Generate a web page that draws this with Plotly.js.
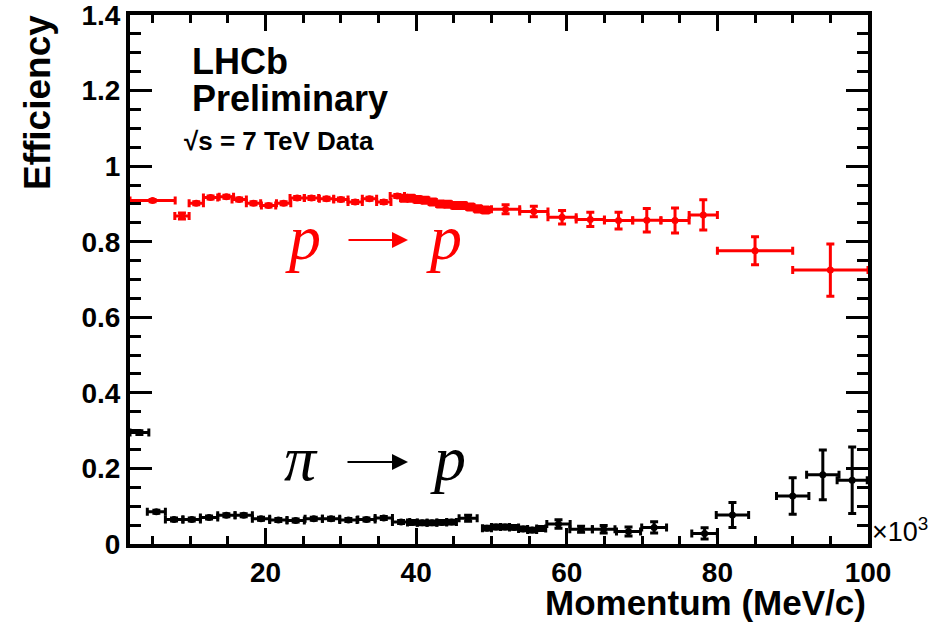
<!DOCTYPE html>
<html>
<head>
<meta charset="utf-8">
<script src="https://cdn.plot.ly/plotly-3.0.1.min.js"></script>
<style>html,body{margin:0;padding:0;background:#fff;}#chart{width:948px;height:623px;}</style>
</head>
<body>
<div id="chart"></div>
<script>
// Momentum bin centres (x10^3 MeV/c), efficiencies and uncertainties
var redX = [5, 8.9, 10.8, 12.7, 14.8, 16.5, 18.4, 20.4, 22.4, 24.2, 26.1, 28.1, 30.0, 31.9, 33.8, 35.7, 37.5,
            38.4, 39.3, 40.2, 41.2, 42.2, 43.2, 44.2, 45.2, 46.2, 47.2, 48.2, 49.2,
            51.875, 55.625, 59.375, 63.125, 66.875, 70.625, 74.375, 78.125, 85, 95];
var redY = [0.909, 0.868, 0.902, 0.917, 0.919, 0.912, 0.902, 0.896, 0.902, 0.916, 0.916, 0.914, 0.912, 0.905, 0.914, 0.905, 0.921,
            0.915, 0.915, 0.912, 0.910, 0.905, 0.900, 0.899, 0.896, 0.896, 0.892, 0.887, 0.884,
            0.886, 0.880, 0.865, 0.859, 0.856, 0.857, 0.856, 0.871, 0.776, 0.725];
var redYErr = [0.003, 0.008, 0.004, 0.004, 0.004, 0.004, 0.004, 0.004, 0.004, 0.004, 0.004, 0.004, 0.004, 0.004, 0.004, 0.004, 0.004,
            0.008, 0.008, 0.008, 0.008, 0.008, 0.008, 0.008, 0.008, 0.008, 0.008, 0.008, 0.008,
            0.012, 0.014, 0.018, 0.019, 0.022, 0.031, 0.033, 0.040, 0.037, 0.069];
var redXErr = [3, 0.95, 0.95, 0.95, 0.95, 0.95, 0.95, 0.95, 0.95, 0.95, 0.95, 0.95, 0.95, 0.95, 0.95, 0.95, 0.95,
            0.48, 0.48, 0.48, 0.48, 0.48, 0.48, 0.48, 0.48, 0.48, 0.48, 0.48, 0.48,
            1.875, 1.875, 1.875, 1.875, 1.875, 1.875, 1.875, 1.875, 5, 5];

var blackX = [3.25, 5.5, 7.85, 10.2, 12.5, 14.8, 17.1, 19.4, 21.7, 24.0, 26.4, 28.7, 31.0, 33.4, 35.7, 38.0,
              39.5, 40.8, 42.1, 43.4, 44.7, 46.9,
              49.4, 50.6, 51.8, 53.0, 54.2, 55.4, 56.6,
              58.9, 61.9, 64.9, 68.2, 71.6,
              78.3, 82.0, 90.0, 94.0, 97.9];
var blackY = [0.295, 0.0855, 0.065, 0.065, 0.070, 0.076, 0.076, 0.067, 0.0635, 0.062, 0.067, 0.067, 0.0635, 0.065, 0.069, 0.058,
              0.057, 0.056, 0.056, 0.057, 0.058, 0.068,
              0.042, 0.045, 0.045, 0.044, 0.040, 0.037, 0.041,
              0.053, 0.039, 0.039, 0.033, 0.044,
              0.028, 0.077, 0.127, 0.183, 0.169];
var blackYErr = [0.005, 0.004, 0.004, 0.004, 0.004, 0.004, 0.004, 0.004, 0.004, 0.004, 0.004, 0.004, 0.004, 0.004, 0.004, 0.004,
              0.005, 0.005, 0.005, 0.005, 0.005, 0.008,
              0.005, 0.005, 0.005, 0.005, 0.005, 0.005, 0.005,
              0.011, 0.008, 0.010, 0.012, 0.015,
              0.015, 0.033, 0.0485, 0.066, 0.088];
var blackXErr = [1.25, 1.2, 1.15, 1.15, 1.15, 1.15, 1.15, 1.15, 1.15, 1.15, 1.15, 1.15, 1.15, 1.15, 1.15, 1.15,
              0.65, 0.65, 0.65, 0.65, 0.65, 1.2,
              0.6, 0.6, 0.6, 0.6, 0.6, 0.6, 0.6,
              1.55, 1.5, 1.5, 1.6, 1.65,
              1.7, 2.15, 2.15, 2.15, 2.0];

var xTickVals = [20, 40, 60, 80, 100];

function series(x, y, ex, ey, color) {
  return {
    type: 'scatter', mode: 'markers', x: x, y: y,
    marker: {color: color, size: 7, symbol: 'circle'},
    error_x: {type: 'data', array: ex, visible: true, color: color, thickness: 3, width: 4},
    error_y: {type: 'data', array: ey, visible: true, color: color, thickness: 3, width: 4},
    showlegend: false, hoverinfo: 'x+y'
  };
}

var data = [
  series(redX, redY, redXErr, redYErr, '#ff0000'),
  series(blackX, blackY, blackXErr, blackYErr, '#000000')
];

var tickFont = {family: 'Liberation Sans, Arial, sans-serif', size: 28, color: '#000', weight: 700};
var sans = 'Liberation Sans, Arial, sans-serif';
var serif = 'Liberation Serif, DejaVu Serif, serif';

function px(x) { return (x - 130) / 738; }
function py(y) { return (544 - y) / 529; }

function label(x, y, text, size, color, anchor) {
  return {xref: 'paper', yref: 'paper', x: px(x), y: py(y), xanchor: anchor || 'left', yanchor: 'middle',
          showarrow: false, text: text, font: {family: serif, size: size, color: color}};
}
function arrow(x0, x1, y, color) {
  return {xref: 'paper', yref: 'paper', x: px(x1), y: py(y), axref: 'pixel', ayref: 'pixel',
          ax: x0 - x1, ay: 0, text: '', showarrow: true, arrowhead: 2, arrowsize: 1.6,
          arrowwidth: 2, arrowcolor: color, standoff: 0, startstandoff: 0};
}

var layout = {
  width: 948, height: 623,
  margin: {l: 130, r: 80, t: 15, b: 79, pad: 0},
  paper_bgcolor: '#fff', plot_bgcolor: '#fff',
  xaxis: {
    range: [2, 100.0001], tickvals: xTickVals, ticktext: xTickVals.map(String),
    ticks: 'inside', ticklen: 16, tickwidth: 3, tickcolor: '#000',
    minor: {dtick: 5, tick0: 0, ticks: 'inside', ticklen: 8, tickwidth: 3, tickcolor: '#000'},
    showline: true, linewidth: 4, linecolor: '#000', mirror: 'ticks',
    showgrid: false, zeroline: false, tickfont: tickFont
  },
  yaxis: {
    range: [0, 1.4001], tickmode: 'linear', tick0: 0, dtick: 0.2, ticklabeloverflow: 'allow',
    ticks: 'inside', ticklen: 22, tickwidth: 3, tickcolor: '#000',
    minor: {dtick: 0.05, tick0: 0, ticks: 'inside', ticklen: 11, tickwidth: 3, tickcolor: '#000'},
    showline: true, linewidth: 4, linecolor: '#000', mirror: 'ticks',
    showgrid: false, zeroline: false, tickfont: tickFont
  },
  annotations: [
    {xref: 'paper', yref: 'paper', x: px(190), y: py(61), xanchor: 'left', yanchor: 'middle', showarrow: false,
     text: 'LHCb', font: {family: sans, size: 36, weight: 700, color: '#000'}},
    {xref: 'paper', yref: 'paper', x: px(190), y: py(98), xanchor: 'left', yanchor: 'middle', showarrow: false,
     text: 'Preliminary', font: {family: sans, size: 36, weight: 700, color: '#000'}},
    {xref: 'paper', yref: 'paper', x: px(182), y: py(141), xanchor: 'left', yanchor: 'middle', showarrow: false,
     text: '√s = 7 TeV Data', font: {family: sans, size: 26, weight: 700, color: '#000'}},
    label(283, 237, '<i>p</i>', 64, '#ff0000'),
    arrow(347, 408, 240, '#ff0000'),
    label(424, 237, '<i>p</i>', 64, '#ff0000'),
    label(282, 458, '<i>π</i>', 64, '#000'),
    arrow(346, 408, 462, '#000'),
    label(428, 458, '<i>p</i>', 64, '#000'),
    {xref: 'paper', yref: 'paper', x: px(870), y: py(530), xanchor: 'left', yanchor: 'middle', showarrow: false,
     text: '×10<sup>3</sup>', font: {family: sans, size: 27, color: '#000'}},
    {xref: 'paper', yref: 'paper', x: 1.0, y: py(602), xanchor: 'right', yanchor: 'middle', showarrow: false,
     text: 'Momentum (MeV/c)', font: {family: sans, size: 35, weight: 700, color: '#000'}},
    {xref: 'paper', yref: 'paper', x: px(37), y: py(103), xanchor: 'center', yanchor: 'middle', showarrow: false,
     textangle: -90, text: 'Efficiency', font: {family: sans, size: 37, weight: 700, color: '#000'}}
  ]
};

Plotly.newPlot('chart', data, layout, {displayModeBar: false, staticPlot: true});
</script>
</body>
</html>
